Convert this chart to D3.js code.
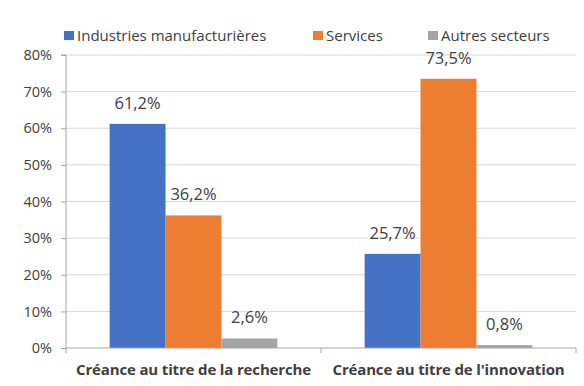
<!DOCTYPE html>
<html>
<head>
<meta charset="utf-8">
<script src="https://cdn.jsdelivr.net/npm/d3@7"></script>
<style>
  body { margin: 0; background: #fff; }
  text { font-family: "Open Sans", "Noto Sans", sans-serif; fill: #404040; }
</style>
</head>
<body>
<div id="chart"></div>
<script>
const categories = ["Créance au titre de la recherche", "Créance au titre de l'innovation"];
const seriesNames = ["Industries manufacturières", "Services", "Autres secteurs"];
const industries = [61.2, 25.7];
const services = [36.2, 73.5];
const autres = [2.6, 0.8];
const yTicks = [0, 10, 20, 30, 40, 50, 60, 70, 80];

const colors = ["#4472C4", "#ED7D31", "#A5A5A5"];
const seriesValues = [industries, services, autres];

let width = 584, height = 386;
let margin = { top: 55, right: 8, bottom: 38, left: 66 };

let svg = d3.select("#chart").append("svg")
    .attr("width", width)
    .attr("height", height);

let x0 = d3.scaleBand()
    .domain(categories)
    .range([margin.left, width - margin.right])
    .padding(0);

let x1 = d3.scaleBand()
    .domain(seriesNames)
    .range([0, x0.bandwidth()])
    .paddingInner(0)
    .paddingOuter(0.78);

let y = d3.scaleLinear()
    .domain([0, 80])
    .range([height - margin.bottom, margin.top]);

// gridlines
svg.append("g")
    .selectAll("line")
    .data(yTicks.filter(d => d > 0))
    .enter()
    .append("line")
    .attr("x1", margin.left)
    .attr("x2", width - margin.right)
    .attr("y1", d => y(d))
    .attr("y2", d => y(d))
    .attr("stroke", "#d9d9d9")
    .attr("stroke-width", 1);

// y axis
let yAxis = svg.append("g")
    .attr("transform", `translate(${margin.left},0)`)
    .call(d3.axisLeft(y).tickValues(yTicks).tickSize(5).tickFormat(d => d + "%"));
yAxis.selectAll("path, line").attr("stroke", "#a6a6a6");
yAxis.select(".domain").attr("d", `M-5,${y(80)}H0V${y(0)}`);
yAxis.selectAll("text")
    .attr("x", -14)
    .style("font-size", "14.5px")
    .style("font-family", "'Open Sans', sans-serif")
    .attr("fill", "#404040");

// bars
let groups = svg.append("g")
    .selectAll("g")
    .data(categories)
    .enter()
    .append("g")
    .attr("transform", d => `translate(${x0(d)},0)`);

groups.selectAll("rect")
    .data((c, i) => seriesNames.map((s, j) => ({ s, v: seriesValues[j][i], j })))
    .enter()
    .append("rect")
    .attr("x", d => x1(d.s))
    .attr("width", x1.bandwidth())
    .attr("y", d => y(d.v))
    .attr("height", d => y(0) - y(d.v))
    .attr("fill", d => colors[d.j]);

groups.selectAll("text.val")
    .data((c, i) => seriesNames.map((s, j) => ({ s, v: seriesValues[j][i], j })))
    .enter()
    .append("text")
    .attr("class", "val")
    .attr("x", d => x1(d.s) + x1.bandwidth() / 2)
    .attr("y", d => y(d.v) - 15)
    .attr("text-anchor", "middle")
    .style("font-size", "16.5px")
    .text(d => d.v.toFixed(1).replace(".", ",") + "%");

// x axis
let xAxisY = y(0);
svg.append("line")
    .attr("x1", margin.left)
    .attr("x2", width - margin.right)
    .attr("y1", xAxisY)
    .attr("y2", xAxisY)
    .attr("stroke", "#a6a6a6");

svg.append("g")
    .selectAll("line")
    .data([0, 1, 2])
    .enter()
    .append("line")
    .attr("x1", d => margin.left + d * x0.bandwidth())
    .attr("x2", d => margin.left + d * x0.bandwidth())
    .attr("y1", xAxisY)
    .attr("y2", xAxisY + 5)
    .attr("stroke", "#a6a6a6");

svg.append("g")
    .selectAll("text")
    .data(categories)
    .enter()
    .append("text")
    .attr("x", d => x0(d) + x0.bandwidth() / 2)
    .attr("y", xAxisY + 27)
    .attr("text-anchor", "middle")
    .style("font-size", "15px")
    .style("font-weight", "bold")
    .style("letter-spacing", "-0.15px")
    .attr("fill", "#262626")
    .text(d => d);

// legend
let legendX = [64, 313, 428];
let legend = svg.append("g")
    .selectAll("g")
    .data(seriesNames)
    .enter()
    .append("g")
    .attr("transform", (d, i) => `translate(${legendX[i]},35.5)`);

legend.append("rect")
    .attr("x", 0)
    .attr("y", -4.5)
    .attr("width", 10)
    .attr("height", 9)
    .attr("fill", (d, i) => colors[i]);

legend.append("text")
    .attr("x", 13)
    .attr("y", 5.5)
    .style("font-size", "15px")
    .text(d => d);
</script>
</body>
</html>
